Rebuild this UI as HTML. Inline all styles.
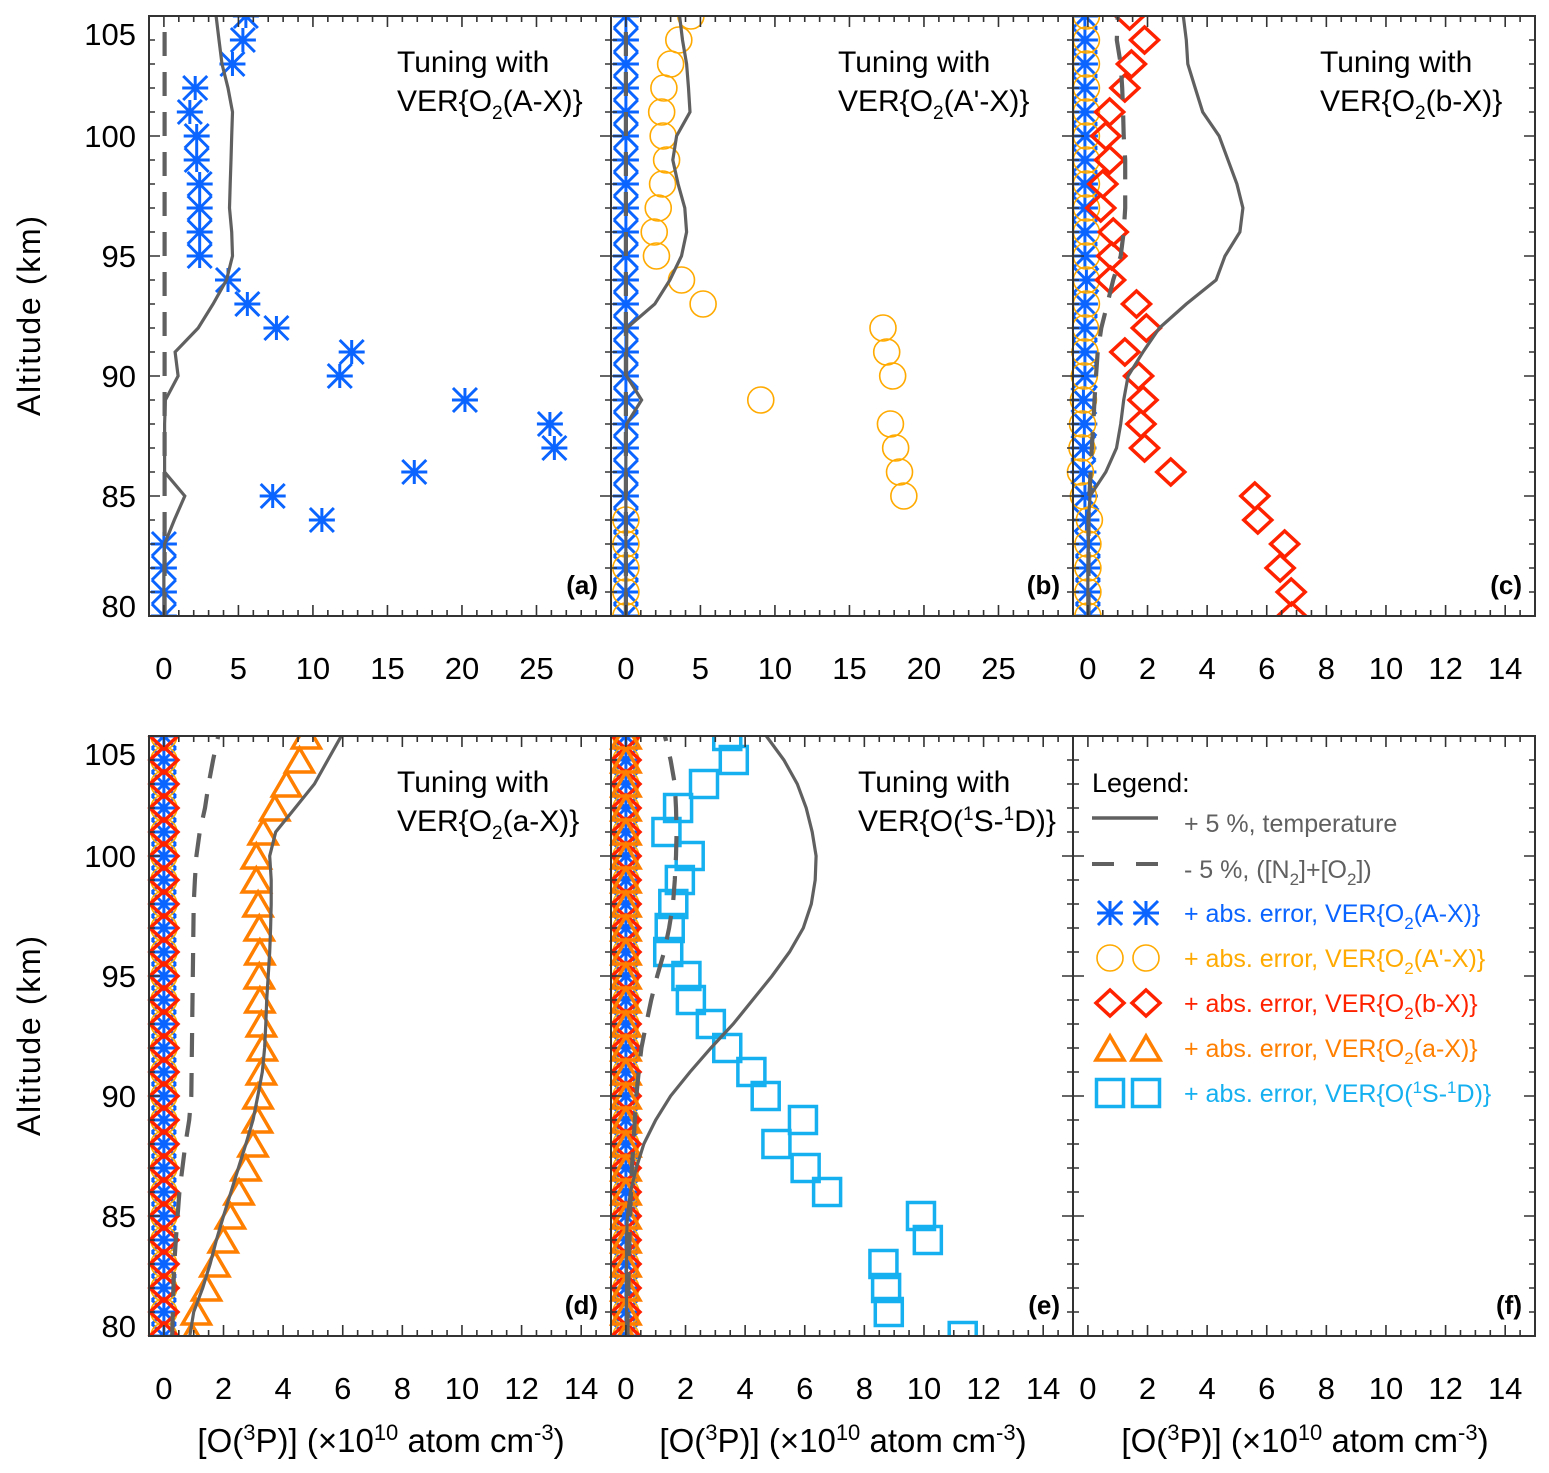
<!DOCTYPE html>
<html><head><meta charset="utf-8"><style>
html,body{margin:0;padding:0;background:#fff;}
svg{display:block;font-family:"Liberation Sans",Arial,sans-serif;}
</style></head><body>
<svg id="chart" width="1549" height="1473" viewBox="0 0 1549 1473" xmlns="http://www.w3.org/2000/svg">
<rect x="0" y="0" width="1549" height="1473" fill="#fff"/>
<g id="marks"></g>
<g id="axes"></g>

<g font-size="30" fill="#000">
<text x="397" y="72">Tuning with</text>
<text x="397" y="111">VER{O<tspan dy="8" font-size="19">2</tspan><tspan dy="-8">(A-X)}</tspan></text>
<text x="838" y="72">Tuning with</text>
<text x="838" y="111">VER{O<tspan dy="8" font-size="19">2</tspan><tspan dy="-8">(A'-X)}</tspan></text>
<text x="1320" y="72">Tuning with</text>
<text x="1320" y="111">VER{O<tspan dy="8" font-size="19">2</tspan><tspan dy="-8">(b-X)}</tspan></text>
<text x="397" y="792">Tuning with</text>
<text x="397" y="831">VER{O<tspan dy="8" font-size="19">2</tspan><tspan dy="-8">(a-X)}</tspan></text>
<text x="858" y="792">Tuning with</text>
<text x="858" y="831">VER{O(<tspan dy="-11" font-size="19">1</tspan><tspan dy="11">S-</tspan><tspan dy="-11" font-size="19">1</tspan><tspan dy="11">D)}</tspan></text>
</g>
<g font-size="26" font-weight="bold" text-anchor="end">
<text x="598" y="594">(a)</text>
<text x="1060" y="594">(b)</text>
<text x="1522" y="594">(c)</text>
<text x="598" y="1314">(d)</text>
<text x="1060" y="1314">(e)</text>
<text x="1522" y="1314">(f)</text>
</g>
<g font-size="32" text-anchor="middle">
<text transform="translate(40,316) rotate(-90)" textLength="200">Altitude (km)</text>
<text transform="translate(40,1036) rotate(-90)" textLength="200">Altitude (km)</text>
<text x="381" y="1452" font-size="33">[O(<tspan dy="-12" font-size="22">3</tspan><tspan dy="12">P)] (×10</tspan><tspan dy="-12" font-size="22">10</tspan><tspan dy="12"> atom cm</tspan><tspan dy="-12" font-size="22">-3</tspan><tspan dy="12">)</tspan></text>
<text x="843" y="1452" font-size="33">[O(<tspan dy="-12" font-size="22">3</tspan><tspan dy="12">P)] (×10</tspan><tspan dy="-12" font-size="22">10</tspan><tspan dy="12"> atom cm</tspan><tspan dy="-12" font-size="22">-3</tspan><tspan dy="12">)</tspan></text>
<text x="1305" y="1452" font-size="33">[O(<tspan dy="-12" font-size="22">3</tspan><tspan dy="12">P)] (×10</tspan><tspan dy="-12" font-size="22">10</tspan><tspan dy="12"> atom cm</tspan><tspan dy="-12" font-size="22">-3</tspan><tspan dy="12">)</tspan></text>
</g>

<g id="legend" font-size="25">
<text x="1092" y="792" font-size="27">Legend:</text>
<line x1="1092" y1="818" x2="1158" y2="818" stroke="#606060" stroke-width="3.5"/>
<text x="1184" y="832" fill="#606060">+ 5 %, temperature</text>
<line x1="1092" y1="864" x2="1158" y2="864" stroke="#606060" stroke-width="4" stroke-dasharray="22,22"/>
<text x="1184" y="878" fill="#606060">-   5 %, ([N<tspan dy="7" font-size="17">2</tspan><tspan dy="-7">]+[O</tspan><tspan dy="7" font-size="17">2</tspan><tspan dy="-7">])</tspan></text>
<text x="1184" y="922" fill="#0a64ff">+ abs. error, VER{O<tspan dy="7" font-size="17">2</tspan><tspan dy="-7">(A-X)}</tspan></text>
<text x="1184" y="967" fill="#ffaa00">+ abs. error, VER{O<tspan dy="7" font-size="17">2</tspan><tspan dy="-7">(A'-X)}</tspan></text>
<text x="1184" y="1012" fill="#ff2200">+ abs. error, VER{O<tspan dy="7" font-size="17">2</tspan><tspan dy="-7">(b-X)}</tspan></text>
<text x="1184" y="1057" fill="#ff7f00">+ abs. error, VER{O<tspan dy="7" font-size="17">2</tspan><tspan dy="-7">(a-X)}</tspan></text>
<text x="1184" y="1102" fill="#14b0f0">+ abs. error, VER{O(<tspan dy="-9" font-size="17">1</tspan><tspan dy="9">S-</tspan><tspan dy="-9" font-size="17">1</tspan><tspan dy="9">D)}</tspan></text>
</g>

<script>
const alts = [80,81,82,83,84,85,86,87,88,89,90,91,92,93,94,95,96,97,98,99,100,101,102,103,104,105];
const zeros = [0,0,0,0,0,0,0,0,0,0,0,0,0,0,0,0,0,0,0,0,0,0,0,0,0,0];
const aStars = [0,0,0,0,10.6,7.3,16.8,26.2,25.9,20.2,11.8,12.6,7.55,5.6,4.3,2.4,2.4,2.4,2.4,2.2,2.2,1.74,2.1,4.6,5.3,5.5];
const aTemp = [0,0,0,0.05,0.7,1.4,0.05,0.05,0.05,0.1,0.95,0.75,2.3,3.3,4.2,4.6,4.55,4.4,4.45,4.5,4.55,4.6,4.3,3.9,3.7,3.5];
const aDens = [0.05,0.05,0.05,0.05,0.05,0.05,0.05,0.05,0.05,0.05,0.05,0.05,0.05,0.05,0.05,0.05,0.05,0.05,0.05,0.05,0.05,0.05,0.05,0.05,0.05,0.05];
const bCirc = [0,0,0,0,0,18.65,18.36,18.1,17.75,9.05,17.9,17.5,17.25,5.18,3.73,2.05,1.9,2.17,2.46,2.73,2.5,2.4,2.55,3.0,3.55,4.36];
const bTemp = [0,0,0,0,0,0,0,0,0.05,1.05,0.05,0.05,0.06,1.94,2.95,3.73,4.07,3.95,3.5,3.15,3.4,4.3,4.2,4.07,3.8,3.6];
const cDiam = [6.84,6.82,6.45,6.6,5.7,5.6,2.78,1.9,1.78,1.85,1.7,1.24,1.96,1.63,0.76,0.8,0.85,0.43,0.5,0.73,0.6,0.73,1.24,1.46,1.9,1.4];
const cStars = [0,0,0,0,-0.05,-0.1,-0.15,-0.15,-0.12,-0.15,-0.1,-0.1,-0.1,-0.1,-0.05,-0.1,-0.1,-0.1,-0.1,-0.1,-0.1,-0.1,-0.1,-0.1,-0.1,-0.1];
const cCirc = [0,0,0,0,0.05,-0.15,-0.25,-0.2,-0.18,-0.15,-0.12,-0.1,-0.08,-0.05,-0.05,-0.05,-0.05,-0.05,-0.05,-0.05,-0.05,-0.05,-0.05,-0.05,-0.05,-0.05];
const cTemp = [0,0,0,0.02,0.02,0.07,0.6,0.96,1.1,1.2,1.35,1.85,2.4,3.3,4.3,4.6,5.1,5.2,5.0,4.7,4.4,3.85,3.6,3.35,3.3,3.2];
const cDens = [0.02,0.02,0.02,0.02,0.02,0.05,0.09,0.13,0.18,0.22,0.27,0.33,0.45,0.65,0.85,1.1,1.2,1.25,1.25,1.25,1.2,1.18,1.15,1.1,0.97,1.0];
const dTri = [0.93,1.09,1.43,1.71,1.99,2.23,2.52,2.75,2.99,3.14,3.16,3.27,3.3,3.27,3.22,3.2,3.22,3.2,3.16,3.1,3.1,3.33,3.72,4.11,4.55,4.78];
const dTemp = [0.87,1.0,1.3,1.55,1.76,2.0,2.25,2.5,2.75,2.99,3.15,3.3,3.38,3.42,3.45,3.5,3.55,3.58,3.6,3.6,3.55,3.75,4.4,5.05,5.5,5.95];
const dDens = [0.28,0.3,0.32,0.35,0.4,0.46,0.52,0.62,0.72,0.85,0.92,0.93,0.94,0.95,0.96,0.97,0.98,0.99,1.0,1.04,1.09,1.2,1.38,1.5,1.65,1.82];
const eSq = [11.3,8.82,8.73,8.64,10.13,9.9,6.75,6.03,5.05,5.94,4.69,4.21,3.4,2.85,2.18,2.03,1.42,1.47,1.59,1.81,2.14,1.36,1.75,2.62,3.62,3.4];
const eTemp = [0.02,0.02,0.02,0.02,0.02,0.05,0.15,0.35,0.6,1.0,1.5,2.15,2.85,3.6,4.25,4.9,5.49,5.95,6.22,6.35,6.38,6.25,6.05,5.75,5.3,4.71];
const eDens = [0.05,0.06,0.08,0.1,0.12,0.14,0.17,0.2,0.25,0.3,0.35,0.43,0.52,0.68,0.85,1.05,1.28,1.45,1.58,1.64,1.68,1.7,1.68,1.64,1.5,1.31];
const ticksWide = [0,5,10,15,20,25];
const ticksNarrow = [0,2,4,6,8,10,12,14];
const yTicks = [80,85,90,95,100,105];

const NS = 'http://www.w3.org/2000/svg';
const marksG = document.getElementById('marks');
const axesG = document.getElementById('axes');
const defs = document.createElementNS(NS,'defs');
document.getElementById('chart').insertBefore(defs, marksG);

const COLORS = {star:'#0a64ff', circ:'#ffaa00', diam:'#ff2200', tri:'#ff7f00', sq:'#14b0f0', gray:'#606060'};

const panels = [
 {id:'a', x0:149, y0:16, xmin:-1, xmax:30, major:5, minor:1, labels:ticksWide, ylab:true,
  series:[['star',aStars]], temp:aTemp, dens:aDens},
 {id:'b', x0:611, y0:16, xmin:-1, xmax:30, major:5, minor:1, labels:ticksWide, ylab:false,
  series:[['star',zeros],['circ',bCirc]], temp:bTemp, dens:zeros},
 {id:'c', x0:1073, y0:16, xmin:-0.5, xmax:15, major:2, minor:0.5, labels:ticksNarrow, ylab:false,
  series:[['star',cStars],['circ',cCirc],['diam',cDiam]], temp:cTemp, dens:cDens},
 {id:'d', x0:149, y0:736, xmin:-0.5, xmax:15, major:2, minor:0.5, labels:ticksNarrow, ylab:true,
  series:[['star',zeros],['circ',zeros],['diam',zeros],['tri',dTri]], temp:dTemp, dens:dDens},
 {id:'e', x0:611, y0:736, xmin:-0.5, xmax:15, major:2, minor:0.5, labels:ticksNarrow, ylab:false,
  series:[['star',zeros],['circ',zeros],['diam',zeros],['tri',zeros],['sq',eSq]], temp:eTemp, dens:eDens},
 {id:'f', x0:1073, y0:736, xmin:-0.5, xmax:15, major:2, minor:0.5, labels:ticksNarrow, ylab:false,
  series:[], temp:null, dens:null}
];
const W = 462, H = 600, YMIN = 80, YMAX = 105;

function markerPath(kind){
  if(kind==='star') return 'M-13,0H13M0,-12V12M-12,-12L12,12M-12,12L12,-12';
  if(kind==='diam') return 'M0,-13L14,0L0,13L-14,0Z';
  if(kind==='tri') return 'M0,-12L14,12L-14,12Z';
  if(kind==='sq') return 'M-13.5,-13.5H13.5V13.5H-13.5Z';
  return '';
}
function drawMarker(g, kind, cx, cy){
  let el;
  if(kind==='circ'){
    el = document.createElementNS(NS,'circle');
    el.setAttribute('cx',cx); el.setAttribute('cy',cy); el.setAttribute('r',13);
    el.setAttribute('stroke-width',1.6);
  } else {
    el = document.createElementNS(NS,'path');
    el.setAttribute('d',markerPath(kind));
    el.setAttribute('transform','translate('+cx+','+cy+')');
    el.setAttribute('stroke-width', kind==='star'?3:3.5);
    el.setAttribute('stroke-linejoin','miter');
  }
  el.setAttribute('fill','none');
  el.setAttribute('stroke',COLORS[kind]);
  
  
  g.appendChild(el);
  return el;
}
function drawLegendMarker(kind, cx, cy){
  drawMarker(document.getElementById('legend'), kind, cx, cy);
}

panels.forEach(p=>{
  const sx = v => p.x0 + (v - p.xmin) / (p.xmax - p.xmin) * W;
  const sy = v => p.y0 + H - (v - YMIN) / (YMAX - YMIN) * H;
  const cp = document.createElementNS(NS,'clipPath');
  cp.setAttribute('id','clip-'+p.id);
  const cr = document.createElementNS(NS,'rect');
  cr.setAttribute('x', p.x0 - 16); cr.setAttribute('y', p.y0);
  cr.setAttribute('width', W + 32); cr.setAttribute('height', H);
  cp.appendChild(cr); defs.appendChild(cp);

  const g = document.createElementNS(NS,'g');
  g.setAttribute('clip-path','url(#clip-'+p.id+')');
  
  
  marksG.appendChild(g);

  p.series.forEach(s=>{
    const kind = s[0], vals = s[1];
    vals.forEach((v,i)=>{ drawMarker(g, kind, sx(v), sy(alts[i])); });
  });
  [['dens',p.dens],['temp',p.temp]].forEach(c=>{
    if(!c[1]) return;
    const pl = document.createElementNS(NS,'polyline');
    pl.setAttribute('points', c[1].map((v,i)=>sx(v).toFixed(1)+','+sy(alts[i]).toFixed(1)).join(' '));
    pl.setAttribute('fill','none');
    pl.setAttribute('stroke',COLORS.gray);
    pl.setAttribute('stroke-width', c[0]==='temp'?3.2:4.2);
    if(c[0]==='dens') pl.setAttribute('stroke-dasharray','24,16');
    
    
    g.appendChild(pl);
  });

  const ag = document.createElementNS(NS,'g');
  
  
  axesG.appendChild(ag);
  let d = '';
  const nMin = Math.round((p.xmax - p.xmin)/p.minor);
  for(let k=0;k<=nMin;k++){
    const v = p.xmin + k*p.minor;
    const isMaj = Math.abs(v/p.major - Math.round(v/p.major))<1e-6;
    const len = isMaj?11:6;
    const x = sx(v);
    d += 'M'+x+','+(p.y0+H)+'v'+(-len)+'M'+x+','+p.y0+'v'+len;
  }
  for(let v=YMIN; v<=YMAX; v++){
    const len = (v%5===0)?11:6;
    const y = sy(v);
    d += 'M'+p.x0+','+y+'h'+len+'M'+(p.x0+W)+','+y+'h'+(-len);
  }
  const tk = document.createElementNS(NS,'path');
  tk.setAttribute('d',d); tk.setAttribute('stroke','#333'); tk.setAttribute('stroke-width',1.6);
   
  ag.appendChild(tk);
  const box = document.createElementNS(NS,'rect');
  box.setAttribute('x',p.x0); box.setAttribute('y',p.y0); box.setAttribute('width',W); box.setAttribute('height',H);
  box.setAttribute('fill','none'); box.setAttribute('stroke','#333'); box.setAttribute('stroke-width',2);
   
  ag.appendChild(box);
  p.labels.forEach(v=>{
    const t = document.createElementNS(NS,'text');
    t.setAttribute('x', sx(v)); t.setAttribute('y', p.y0+H+63);
    t.setAttribute('text-anchor','middle'); t.setAttribute('font-size','31');
    t.textContent = String(v);
    
    
    ag.appendChild(t);
  });
  if(p.ylab){
    yTicks.forEach(v=>{
      const t = document.createElementNS(NS,'text');
      let y = sy(v)+11;
      if(y < p.y0+29) y = p.y0+29;
      if(y > p.y0+H+1) y = p.y0+H+1;
      t.setAttribute('x', 136); t.setAttribute('y', y);
      t.setAttribute('text-anchor','end'); t.setAttribute('font-size','31');
      t.textContent = String(v);
      
      
      ag.appendChild(t);
    });
  }
});

drawLegendMarker('star',1110,913); drawLegendMarker('star',1146,913);
drawLegendMarker('circ',1110,958); drawLegendMarker('circ',1146,958);
drawLegendMarker('diam',1110,1003); drawLegendMarker('diam',1146,1003);
drawLegendMarker('tri',1110,1048); drawLegendMarker('tri',1146,1048);
drawLegendMarker('sq',1110,1093); drawLegendMarker('sq',1146,1093);
</script>
</svg>
</body></html>
